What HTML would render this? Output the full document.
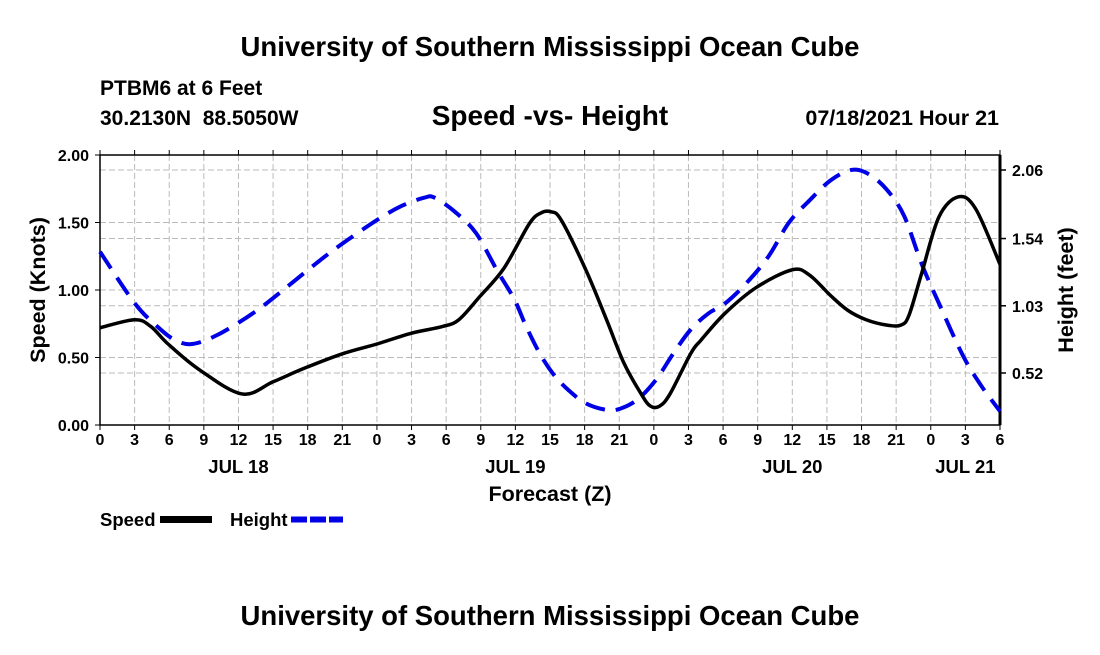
<!DOCTYPE html>
<html><head><meta charset="utf-8"><style>
body{margin:0;background:#fff;}
svg text{font-family:"Liberation Sans",Arial,sans-serif;font-weight:bold;fill:#000;}
</style></head><body>
<svg id="chart" width="1100" height="650" viewBox="0 0 1100 650" xmlns="http://www.w3.org/2000/svg">
<rect width="1100" height="650" fill="#fff"/>
<text x="550" y="56" font-size="27.5" text-anchor="middle">University of Southern Mississippi Ocean Cube</text>
<text x="100" y="95" font-size="21">PTBM6 at 6 Feet</text>
<text x="100" y="125" font-size="21" xml:space="preserve">30.2130N  88.5050W</text>
<text x="550" y="125" font-size="28" text-anchor="middle">Speed -vs- Height</text>
<text x="999" y="125" font-size="21.5" text-anchor="end">07/18/2021 Hour 21</text>
<g id="grid"></g>
<g id="axes"></g>
<g id="series"></g>
<text transform="translate(45,290) rotate(-90)" font-size="21.5" text-anchor="middle">Speed (Knots)</text>
<text transform="translate(1073,290) rotate(-90)" font-size="21.5" text-anchor="middle">Height (feet)</text>
<text x="550" y="501" font-size="21.5" text-anchor="middle">Forecast (Z)</text>
<g>
<text x="100" y="526" font-size="18.5">Speed</text>
<rect x="160" y="516" width="52" height="7" fill="#000"/>
<text x="230" y="526" font-size="18.5">Height</text>
<line x1="291" y1="519.5" x2="343" y2="519.5" stroke="#0000e6" stroke-width="6" stroke-dasharray="16,3"/>
</g>
<text x="550" y="625" font-size="27.5" text-anchor="middle">University of Southern Mississippi Ocean Cube</text>
</svg>
<script>
const speedHours=[0,3,4.4,5.9,8.6,12.3,15,17.7,21.1,24,27,29.7,31.1,32.9,35,37.2,38.2,39.05,39.96,42.1,43.9,45.4,46.9,47.7,48.5,49.4,51.2,52.1,54.2,56.9,60,61.5,63.3,64.8,66.4,68.2,69.4,70.1,71.2,72.7,74.4,75.9,78];
const speedValues=[0.72,0.78,0.73,0.6,0.41,0.23,0.32,0.42,0.53,0.6,0.68,0.73,0.78,0.95,1.16,1.49,1.57,1.58,1.52,1.15,0.78,0.46,0.23,0.14,0.14,0.23,0.53,0.63,0.83,1.02,1.15,1.11,0.96,0.85,0.78,0.74,0.74,0.81,1.12,1.54,1.69,1.6,1.19];
const heightHours=[0,3,5,6.5,8,10.2,13.2,15.6,18,20.5,24,26.2,28.1,29,30.8,32.6,34.4,35.9,36.9,38.1,39.3,40.6,42.1,43.9,45.1,46.6,48.2,49.7,51.2,52.7,54.2,56,57.9,59.7,61.5,63.3,65.1,66.6,68.2,69.7,71.2,72.7,74.8,76.4,78];
const heightValues=[1.44,1.05,0.87,0.77,0.74,0.81,0.97,1.13,1.3,1.47,1.68,1.79,1.85,1.85,1.74,1.58,1.3,1.08,0.88,0.67,0.51,0.39,0.29,0.24,0.25,0.32,0.47,0.67,0.85,0.97,1.05,1.2,1.4,1.66,1.83,1.98,2.06,2.03,1.91,1.71,1.35,1.05,0.65,0.42,0.23];
const xTickLabels=["0","3","6","9","12","15","18","21","0","3","6","9","12","15","18","21","0","3","6","9","12","15","18","21","0","3","6"];
const dateLabels=["JUL 18","JUL 19","JUL 20","JUL 21"];
const dateHours=[12,36,60,75];
const leftTicks=[0,0.5,1,1.5,2];
const leftTickLabels=["0.00","0.50","1.00","1.50","2.00"];
const rightTicks=[0.52,1.03,1.54,2.06];
const rightTickLabels=["0.52","1.03","1.54","2.06"];

const L=100,R=1000,T=155,B=425,HMAX=78;
const xs=h=>L+(R-L)*h/HMAX;
const yL=v=>B-(B-T)*v/2;
const yR=h=>170+(2.06-h)*(203/1.54);
const NS="http://www.w3.org/2000/svg";
function mk(parent,tag,attrs){const e=document.createElementNS(NS,tag);for(const k in attrs)e.setAttribute(k,attrs[k]);document.getElementById(parent).appendChild(e);return e;}
xTickLabels.forEach((t,i)=>{const x=xs(i*3);
 const g=mk('grid','line',{x1:x,y1:T,x2:x,y2:B,stroke:'#bbb','stroke-width':1,'stroke-dasharray':'6,3'});
 
 
 const tk=mk('axes','line',{x1:x,y1:B,x2:x,y2:B+5,stroke:'#000','stroke-width':1});
 
 
 const tt=mk('axes','line',{x1:x,y1:T,x2:x,y2:T-5,stroke:'#000','stroke-width':1});
 
 
 const lb=mk('axes','text',{x:x,y:B+20,'font-size':16,'text-anchor':'middle'});lb.textContent=t;
 
 
});
dateLabels.forEach((d,i)=>{const lb=mk('axes','text',{x:xs(dateHours[i]),y:B+48,'font-size':18.5,'text-anchor':'middle'});lb.textContent=d;
 
 });
leftTicks.forEach((v,i)=>{const y=yL(v);
 if(v>0&&v<2){const g=mk('grid','line',{x1:L,y1:y,x2:R,y2:y,stroke:'#bbb','stroke-width':1,'stroke-dasharray':'6,3'});
 
 }
 const tk=mk('axes','line',{x1:L-5,y1:y,x2:L,y2:y,stroke:'#000','stroke-width':1});
 
 
 const lb=mk('axes','text',{x:L-11,y:y+6,'font-size':16,'text-anchor':'end'});lb.textContent=leftTickLabels[i];
 
 });
rightTicks.forEach((h,i)=>{const y=yR(h);
 const g=mk('grid','line',{x1:L,y1:y,x2:R,y2:y,stroke:'#bbb','stroke-width':1,'stroke-dasharray':'6,3'});
 
 
 const tk=mk('axes','line',{x1:R,y1:y,x2:R+6,y2:y,stroke:'#000','stroke-width':1.5});
 
 
 const lb=mk('axes','text',{x:R+12,y:y+6,'font-size':16});lb.textContent=rightTickLabels[i];
 
 });
const frame=mk('axes','rect',{x:L,y:T,width:R-L,height:B-T,fill:'none',stroke:'#000','stroke-width':1.5});


const rax=mk('axes','line',{x1:R,y1:T,x2:R,y2:B,stroke:'#000','stroke-width':3});


function smooth(pts){let d=`M${pts[0][0]},${pts[0][1]}`;
 for(let i=0;i<pts.length-1;i++){const p0=pts[i-1]||pts[i],p1=pts[i],p2=pts[i+1],p3=pts[i+2]||p2;
 const c1=[p1[0]+(p2[0]-p0[0])/6,p1[1]+(p2[1]-p0[1])/6],c2=[p2[0]-(p3[0]-p1[0])/6,p2[1]-(p3[1]-p1[1])/6];
 d+=` C${c1[0]},${c1[1]} ${c2[0]},${c2[1]} ${p2[0]},${p2[1]}`;}return d;}
const hp=mk('series','path',{d:smooth(heightHours.map((h,i)=>[xs(h),yR(heightValues[i])])),fill:'none',stroke:'#0000e6','stroke-width':4,'stroke-dasharray':'20,11'});


const sp=mk('series','path',{d:smooth(speedHours.map((h,i)=>[xs(h),yL(speedValues[i])])),fill:'none',stroke:'#000','stroke-width':3.5,'stroke-linejoin':'round'});


</script>
</body></html>
